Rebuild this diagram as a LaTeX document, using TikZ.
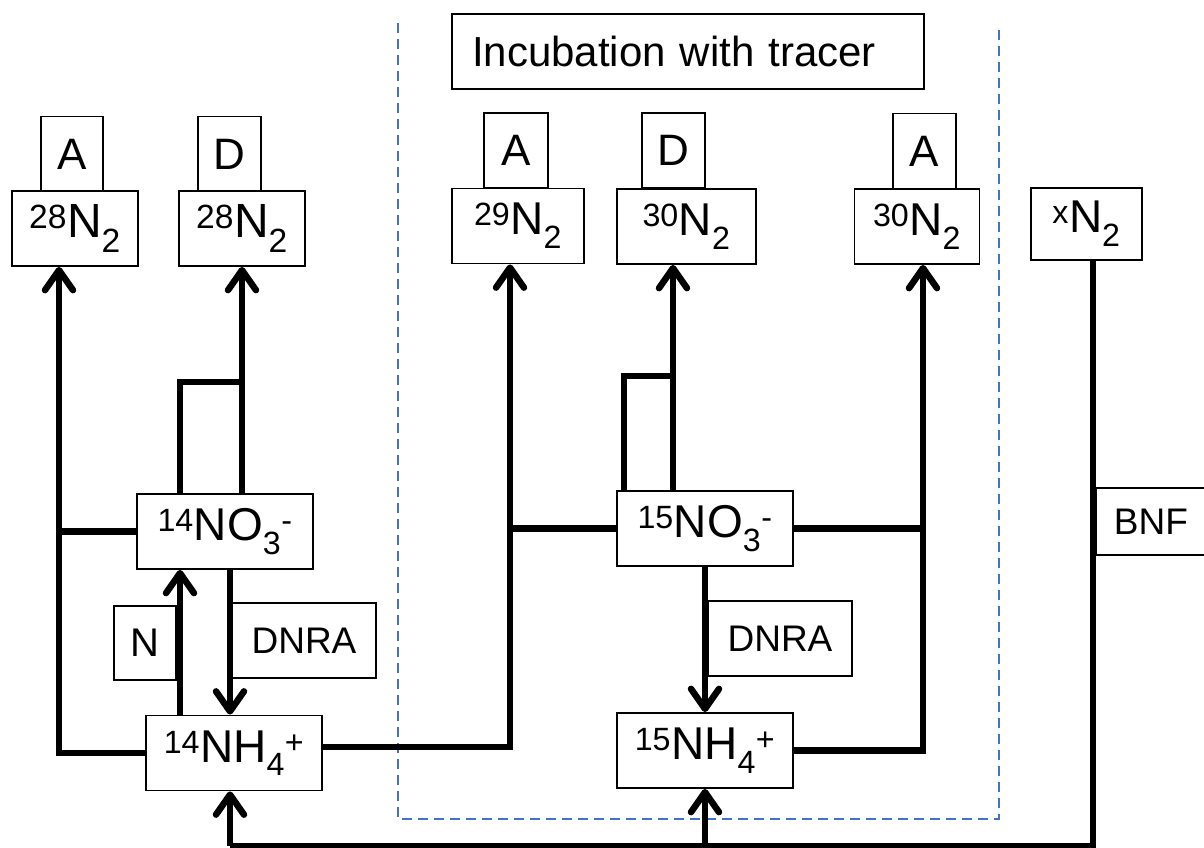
\documentclass[tikz,border=0pt]{standalone}
\usepackage{fontspec}
\setmainfont{Liberation Sans}
\usetikzlibrary{arrows.meta}
\definecolor{incblue}{RGB}{68,114,196}
\newcommand{\mass}[1]{\textsuperscript{#1}}
\newcommand{\idx}[1]{\textsubscript{#1}}

\begin{document}
\begin{tikzpicture}[
  x=1pt, y=-1pt,
  box/.style={draw, line width=1.8pt, fill=white, inner sep=0pt, align=center},
  pool/.style={box, minimum height=75pt, font=\fontsize{46}{50}\selectfont},
  tag/.style={box, minimum height=75pt, font=\fontsize{44}{48}\selectfont},
  proc/.style={box, minimum height=75pt, font=\fontsize{37}{40}\selectfont},
  flux/.style={line width=6.5pt},
  flow/.style={flux, -{Straight Barb[length=20pt,width=28pt,round]}},
]
\useasboundingbox (0,0) rectangle (1204,848);

\draw[incblue, line width=2.5pt, dash pattern=on 10pt off 6pt]
  (398,23) -- (398,819) -- (999,819) -- (999,30);

\node[tag, minimum width=62pt] (a1) at (72,154) {A};
\node[tag, minimum width=63pt] (d1) at (229.5,154) {D};
\node[pool, minimum width=126pt, font=\fontsize{48}{52}\selectfont] (n28a) at (75,228.5) {\mass{28}N\idx{2}};
\node[pool, minimum width=126pt, font=\fontsize{48}{52}\selectfont] (n28b) at (242,228.5) {\mass{28}N\idx{2}};

\node[box, minimum height=75pt, text width=432pt, inner xsep=20pt, align=left,
  font=\fontsize{42}{48}\selectfont] (inc) at (688,51.5) {Incubation with tracer};

\node[tag, minimum width=64pt] (a2) at (516,150.5) {A};
\node[pool, minimum width=132pt] (n29) at (518,226) {\mass{29}N\idx{2}};
\node[tag, minimum width=63pt] (d2) at (673.5,150.5) {D};
\node[pool, minimum width=139pt] (n30a) at (686.5,226.5) {\mass{30}N\idx{2}};
\node[tag, minimum width=63pt] (a3) at (924.5,151) {A};
\node[pool, minimum width=125pt] (n30b) at (917,226.5) {\mass{30}N\idx{2}};
\node[pool, minimum width=111pt, minimum height=72pt] (nx) at (1086.5,224) {\mass{x}N\idx{2}};
\node[proc, anchor=west, minimum height=67pt, text width=120pt, inner xsep=18pt,
  align=left] (bnf) at (1095,521.5) {BNF};

\node[pool, minimum width=176pt] (no14) at (225,531.5) {\mass{14}NO\idx{3}\mass{-}};
\node[proc, minimum width=62pt, minimum height=74pt,
  font=\fontsize{40}{44}\selectfont] (nit) at (145,643) {N};
\node[proc, minimum width=144pt] (dnra1) at (304,640.5) {DNRA};
\node[pool, minimum width=176pt] (nh14) at (234,753) {\mass{14}NH\idx{4}\mass{+}};

\node[pool, minimum width=176pt] (no15) at (705,528.5) {\mass{15}NO\idx{3}\mass{-}};
\node[proc, minimum width=144pt] (dnra2) at (780,638.5) {DNRA};
\node[pool, minimum width=176pt] (nh15) at (705,750.5) {\mass{15}NH\idx{4}\mass{+}};

\coordinate (busL) at (59,529);
\coordinate (busM) at (510,527);
\coordinate (busR) at (923,529);
\coordinate (kinkL) at (242,382);
\coordinate (kinkM) at (673,376);
\coordinate (ground) at (230,846);

\draw[flow] (nh14.west) -| (n28a.south -| busL);
\draw[flux] (no14.west) -- (no14.west -| busL);
\draw[flux] ([xshift=-45]no14.north) |- (kinkL);
\draw[flow] ([xshift=17]no14.north) -- (n28b.south);
\draw[flow] ([xshift=-54]nh14.north) -- ([xshift=-45]no14.south);
\draw[flow] ([xshift=5]no14.south) -- ([xshift=-4]nh14.north);

\draw[flow] ([yshift=6]nh14.east) -| (n29.south -| busM);
\draw[flux] (no15.west) -- (no15.west -| busM);
\draw[flux] ([xshift=-81]no15.north) |- (kinkM);
\draw[flow] ([xshift=-32]no15.north) -- (n30a.south -| kinkM);
\draw[flow] (no15.south) -- (nh15.north);
\draw[flux] (no15.east) -- (no15.east -| busR);
\draw[flow] (nh15.east) -| (n30b.south -| busR);

\draw[flux] ([xshift=6.5]nx.south) |- (ground);
\draw[flow] (ground) -- ([xshift=-4]nh14.south);
\draw[flow] (ground -| nh15.south) -- (nh15.south);
\end{tikzpicture}
\end{document}
